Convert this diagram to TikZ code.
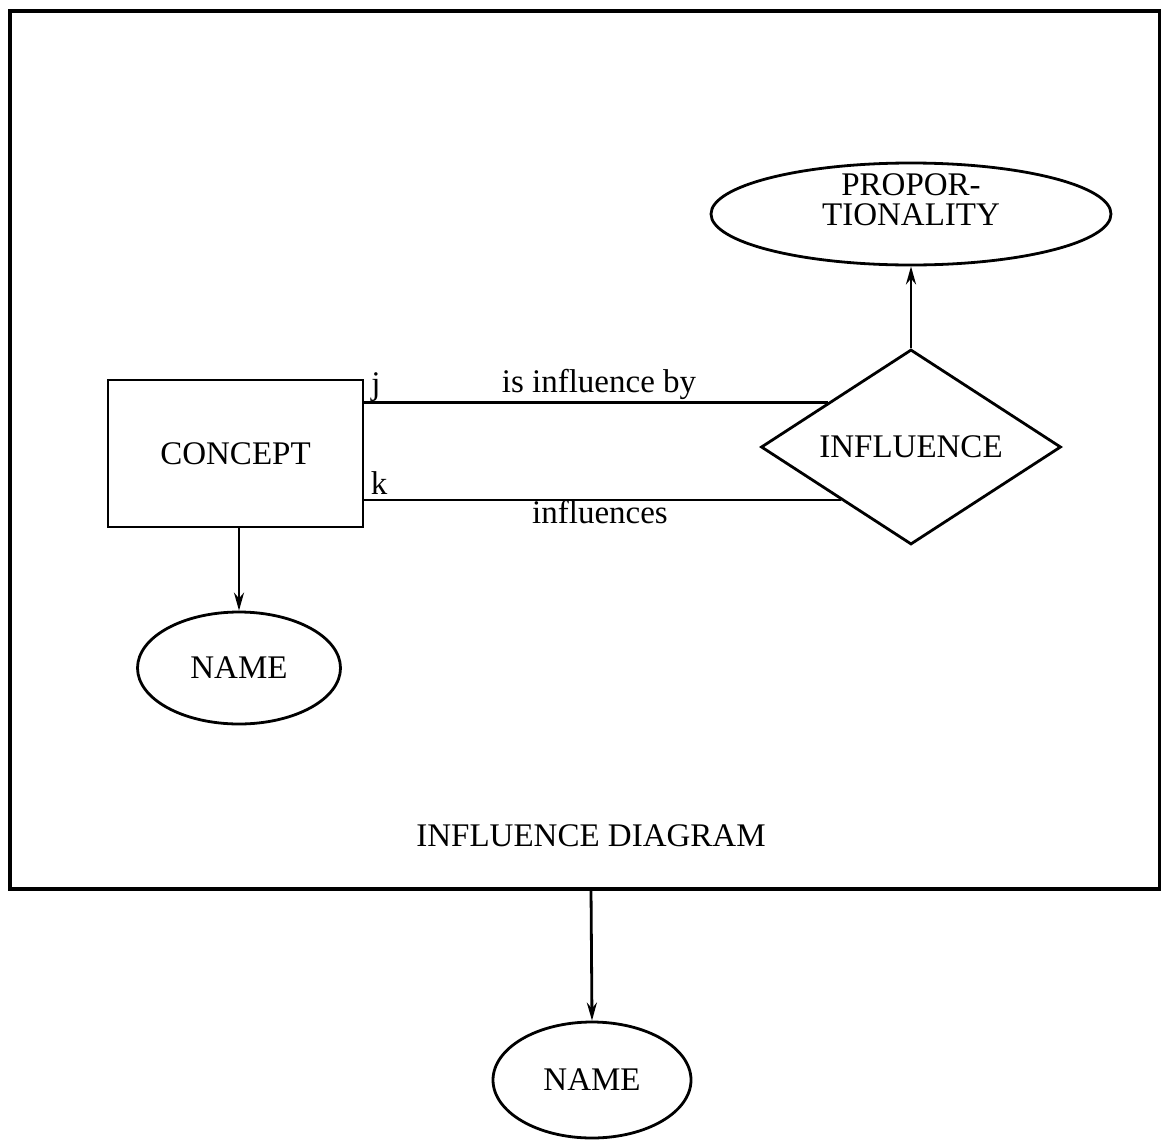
\documentclass[tikz,border=0pt]{standalone}
\usepackage{fontspec}
\setmainfont{Liberation Serif}
\usetikzlibrary{shapes.geometric,arrows.meta}
\begin{document}
\begin{tikzpicture}[x=1pt,y=-1pt,
  every node/.style={font=\fontsize{33}{30}\selectfont, inner sep=0pt},
  shapeline/.style={draw, line width=2.8pt},
  ell/.style={shapeline, ellipse},
  conn/.style={line width=2.8pt},
  arr/.style={conn, -{Stealth[length=18pt,width=10pt]}},
  lbl/.style={anchor=base}
]
\useasboundingbox (0,0) rectangle (1161,1143);
% frame
\draw[line width=3.4pt] (10,11) rectangle (1160,889);
\coordinate (fb) at (591,889);
\node[lbl] (title) at (591,846) {INFLUENCE DIAGRAM};

% nodes
\node[shapeline, rectangle, minimum width=255pt, minimum height=147pt] (concept) at (235.5,453.5) {CONCEPT};
\node[shapeline, diamond, aspect=1.54, minimum width=300pt, minimum height=195pt] (infl) at (911,447) {INFLUENCE};
\node[ell, minimum width=400pt, minimum height=102pt] (prop) at (911,214) {};
\node[align=center] (proptext) at (911,200) {PROPOR-\\TIONALITY};
\node[ell, minimum width=203pt, minimum height=112pt] (name1) at (239,668) {NAME};
\node[ell, minimum width=198pt, minimum height=116pt] (name2) at (592,1080) {NAME};

% connectors
\draw[conn] (infl.152) -- (infl.152 -| concept.east);
\draw[conn] (infl.217.5) -- (infl.217.5 -| concept.east);
\draw[arr] (infl.north) -- (prop.south);
\draw[arr] (concept.south -| name1.north) -- (name1.north);
\draw[arr] (fb) -- (name2.north);

% labels
\node[lbl] (lj) at (376,394) {j};
\node[lbl] (lk) at (379,494) {k};
\node[lbl] (lisby) at (599,392) {is influence by};
\node[lbl] (linf) at (600,523) {influences};
\end{tikzpicture}
\end{document}
